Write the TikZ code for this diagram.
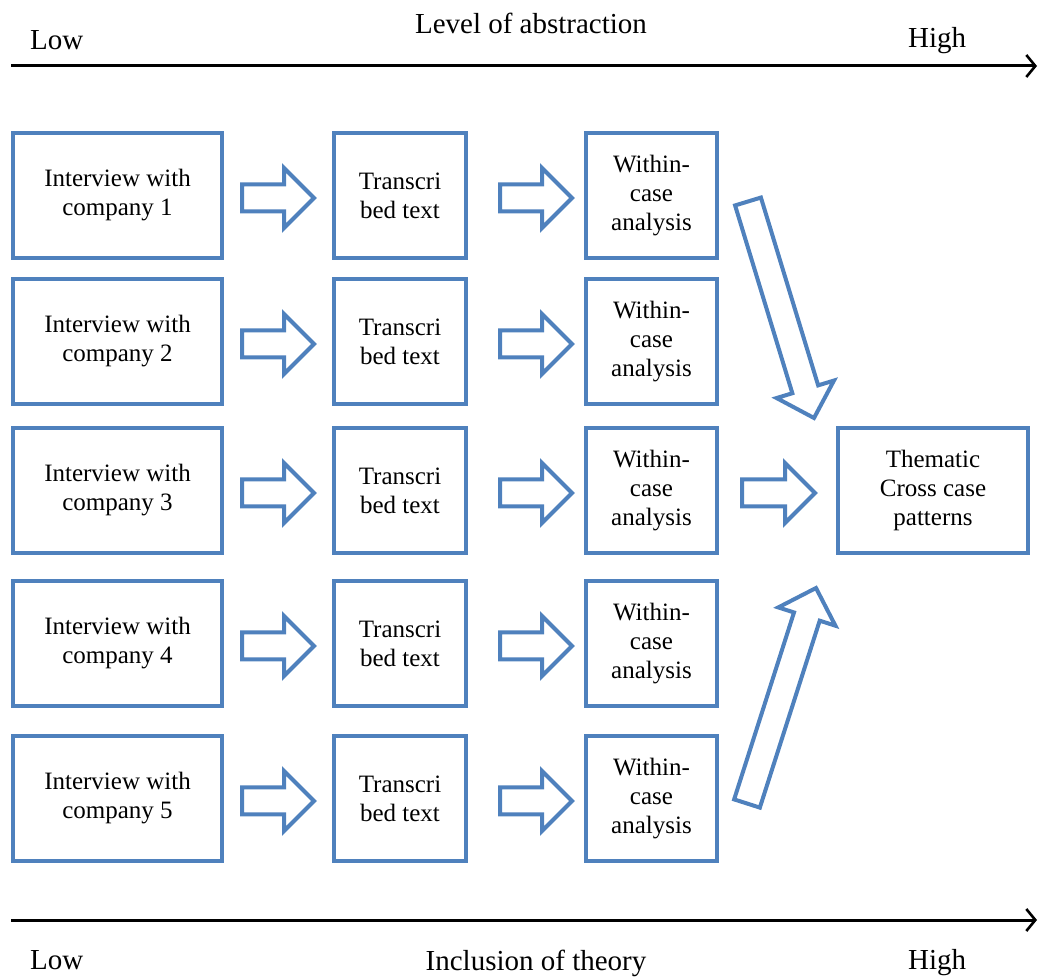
\documentclass[tikz,border=0pt]{standalone}
\usepackage{fontspec}
\setmainfont{Liberation Serif}
\usetikzlibrary{positioning,calc,arrows.meta}

\definecolor{boxblue}{RGB}{79,129,189}

\tikzset{
    stage/.style={rectangle, draw=boxblue, line width=2pt, fill=white, align=center, inner sep=0pt,
        minimum height=62.5pt, font=\fontsize{12.5}{14.5}\selectfont},
    iview/.style={stage, minimum width=104.5pt},
    transcr/.style={stage, minimum width=66pt},
    within/.style={stage, minimum width=65.5pt},
    blockline/.style={draw=boxblue, line width=2pt, fill=white},
    axis/.style={line width=1.5pt, -{Straight Barb[length=4.5pt, width=11pt, line width=1.3pt]}},
    axislabel/.style={anchor=base, font=\fontsize{14.5}{17}\selectfont}
}

% hollow block arrow from tail (#1) to tip (#2)
\newcommand\blockarrow[2]{%
    \coordinate (neck) at ($(#2)!15pt!(#1)$);
    \draw[blockline] ($(#1)!6.75pt!-90:(#2)$) -- ($(neck)!6.75pt!-90:(#2)$) -- ($(neck)!15pt!-90:(#2)$)
        -- (#2) -- ($(neck)!15pt!90:(#2)$) -- ($(neck)!6.75pt!90:(#2)$) -- ($(#1)!6.75pt!90:(#2)$) -- cycle;
}

\begin{document}
\begin{tikzpicture}[x=0.5pt, y=-0.5pt]
    \useasboundingbox (0,0) rectangle (1039,977);

    % Axes
    \coordinate (abs-l) at (11,66);
    \coordinate (abs-r) at (1037,66);
    \coordinate (th-l) at (11,920);
    \coordinate (th-r) at (1037,920);
    \draw[axis] (abs-l) -- (abs-r);
    \draw[axis] (th-l) -- (th-r);

    \node[axislabel] (abs-title) at (531,34) {Level of abstraction};
    \node[axislabel, anchor=base west] (abs-low) at (23,50) {Low};
    \node[axislabel, anchor=base west] (abs-high) at (901,48) {High};
    \node[axislabel] (th-title) at (536,970) {Inclusion of theory};
    \node[axislabel, anchor=base west] (th-low) at (23,969) {Low};
    \node[axislabel, anchor=base west] (th-high) at (901,969) {High};

    % Interviews
    \node[iview] (iv1) at (117.5,195.5) {Interview with\\company 1};
    \node[iview, below=8.5pt of iv1] (iv2) {Interview with\\company 2};
    \node[iview, below=10pt of iv2] (iv3) {Interview with\\company 3};
    \node[iview, below=12pt of iv3] (iv4) {Interview with\\company 4};
    \node[iview, below=13pt of iv4] (iv5) {Interview with\\company 5};

    % Transcripts and case analyses
    \foreach \i in {1,...,5} {
        \node[transcr, right=54pt of iv\i] (tr\i) {Transcri\\bed text};
        \node[within, right=58pt of tr\i] (wc\i) {Within-\\case\\analysis};
        \coordinate (a\i-tail) at ($(iv\i.east)+(18,2.5)$);
        \coordinate (a\i-tip) at ($(tr\i.west)+(-18,2.5)$);
        \coordinate (b\i-tail) at ($(tr\i.east)+(32,2.5)$);
        \coordinate (b\i-tip) at ($(wc\i.west)+(-12,2.5)$);
        \blockarrow{a\i-tail}{a\i-tip}
        \blockarrow{b\i-tail}{b\i-tip}
    }

    % Cross case
    \node[stage, minimum width=95pt, right=58.5pt of wc3] (theme) {Thematic\\Cross case\\patterns};

    \coordinate (c-tail) at ($(wc3.east)+(23,2.5)$);
    \coordinate (c-tip) at ($(theme.west)+(-21,2.5)$);
    \coordinate (dn-tail) at ($(wc1.east)+(29,6)$);
    \coordinate (dn-tip) at ($(theme.north west)+(-22,-8)$);
    \coordinate (up-tail) at ($(wc5.east)+(28,5)$);
    \coordinate (up-tip) at ($(theme.south west)+(-20,33)$);
    \blockarrow{c-tail}{c-tip}
    \blockarrow{dn-tail}{dn-tip}
    \blockarrow{up-tail}{up-tip}
\end{tikzpicture}
\end{document}
